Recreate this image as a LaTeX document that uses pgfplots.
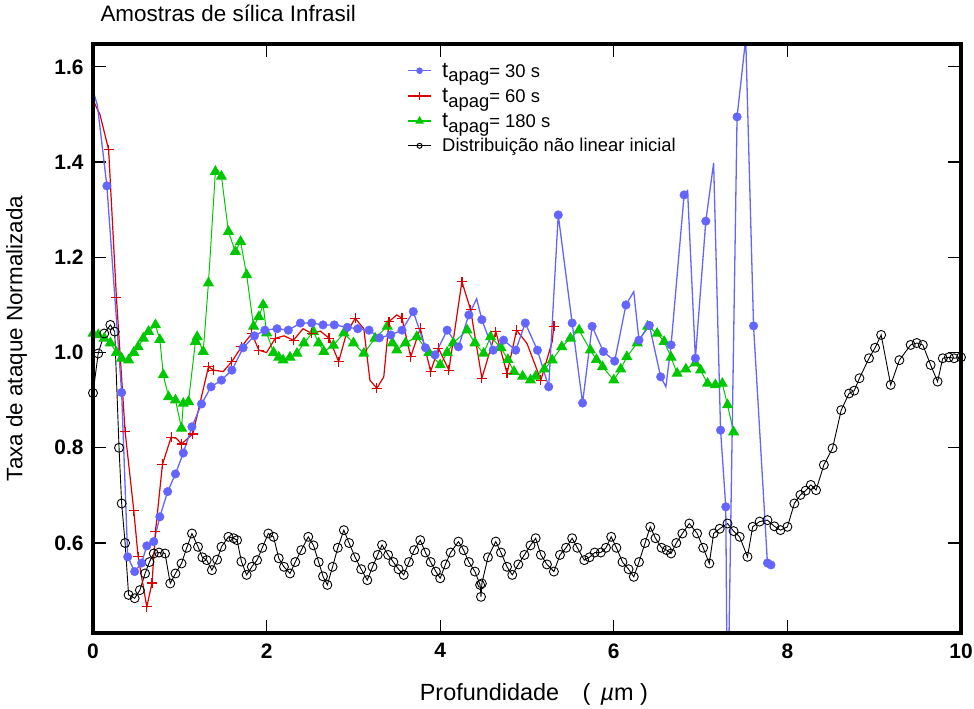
\documentclass[border=0pt]{standalone}
\usepackage{fontspec}
\setmainfont{Liberation Sans}
\usepackage{pgfplots}
\pgfplotsset{compat=1.18}
\definecolor{blueC}{RGB}{100,100,255}
\definecolor{redC}{RGB}{220,0,0}
\definecolor{greenC}{RGB}{0,200,0}

\begin{document}
\begin{tikzpicture}
\begin{axis}[
  name=ax,
  scale only axis,
  width=868bp, height=589bp,
  xmin=0, xmax=10, ymin=0.411, ymax=1.648,
  xtick={0,2,4,6,8,10},
  ytick={0.6,0.8,1.0,1.2,1.4,1.6},
  xtick pos=both, ytick pos=both,
  tick align=inside,
  major tick length=13bp,
  tick style={black, line width=1.3bp},
  axis line style={line width=3bp},
  /pgf/number format/assume math mode=true,
  tick label style={font=\bfseries\fontsize{21}{21}\selectfont},
  yticklabel style={/pgf/number format/fixed, /pgf/number format/fixed zerofill, /pgf/number format/precision=1, xshift=-6bp},
  xticklabel style={yshift=-7bp},
  title={Amostras de sílica Infrasil},
  title style={at={(0,1)}, anchor=base west, yshift=17bp, xshift=4bp, font=\fontsize{22.5}{22.5}\selectfont},
  xlabel={Profundidade\quad(\, \textit{µ}m )},
  xlabel style={at={(axis description cs:0.508,-0.080)}, anchor=north, font=\fontsize{23.5}{23.5}\selectfont},
  ylabel={Taxa de ataque Normalizada},
  ylabel style={at={(axis description cs:-0.072,0.5)}, anchor=south, font=\fontsize{22.5}{22.5}\selectfont},
  legend style={at={(0.358,0.975)}, anchor=north west, draw=none, fill=none,
    font=\fontsize{18.5}{20}\selectfont, row sep=5.5bp, column sep=8bp},
  legend cell align=left,
  legend image code/.code={\draw[mark repeat=2, mark phase=2] plot coordinates {(0cm,0cm) (0.42cm,0cm) (0.84cm,0cm)};},
]
\addlegendimage{blueC, line width=1.5bp, mark=*, mark size=2.5bp}
\addlegendentry{{\fontsize{22}{22}\selectfont t}\raisebox{-0.5ex}{apag}= 30 s}
\addlegendimage{draw=redC, line width=1.5bp, mark=+, mark size=4bp, mark options={draw=redC, line width=1.5bp}}
\addlegendentry{{\fontsize{22}{22}\selectfont t}\raisebox{-0.5ex}{apag}= 60 s}
\addlegendimage{greenC, line width=1.5bp, mark=triangle*, mark size=3.5bp}
\addlegendentry{{\fontsize{22}{22}\selectfont t}\raisebox{-0.5ex}{apag}= 180 s}
\addlegendimage{black, line width=1bp, mark=o, mark size=2.5bp}
\addlegendentry{Distribuição não linear inicial}

% 180 s
\addplot[greenC, line width=1bp, mark=triangle*, mark size=5.5bp, forget plot] coordinates {
(0.00,1.040) (0.06,1.037) (0.13,1.030) (0.20,1.020) (0.27,1.000) (0.33,0.988)
(0.41,0.984) (0.47,1.000) (0.52,1.012) (0.58,1.030) (0.64,1.044) (0.72,1.058)
(0.77,1.027) (0.81,0.953) (0.87,0.907) (0.95,0.900) (1.02,0.841) (1.04,0.893)
(1.10,0.897) (1.18,1.023) (1.20,1.033) (1.27,1.002) (1.33,1.146) (1.41,1.380)
(1.48,1.370) (1.56,1.254) (1.64,1.212) (1.70,1.233) (1.77,1.163) (1.85,1.055)
(1.91,1.075) (1.96,1.100) (2.00,1.041) (2.08,1.000) (2.14,0.990) (2.19,0.984)
(2.27,0.990) (2.35,0.998) (2.43,1.020) (2.54,1.044) (2.60,1.020) (2.66,1.002)
(2.77,1.015) (2.89,1.041) (3.00,1.020) (3.12,0.998) (3.25,1.030) (3.39,1.055)
(3.45,1.020) (3.50,1.005) (3.60,1.020) (3.73,1.033) (3.87,1.000) (4.00,0.974)
(4.08,1.000) (4.15,1.020) (4.31,1.047) (4.40,1.020) (4.50,0.998) (4.58,1.033)
(4.70,1.010) (4.78,0.985) (4.85,0.960) (4.95,0.950) (5.04,0.942) (5.10,0.950)
(5.20,0.965) (5.29,0.984) (5.40,1.012) (5.50,1.030) (5.60,1.047) (5.73,1.005)
(5.80,0.985) (5.87,0.970) (6.00,0.942) (6.08,0.965) (6.15,0.991) (6.27,1.020)
(6.39,1.055) (6.50,1.040) (6.58,1.023) (6.66,0.990) (6.73,0.956) (6.83,0.965)
(6.94,0.978) (7.00,0.963) (7.08,0.935) (7.17,0.932) (7.25,0.935) (7.31,0.890)
(7.38,0.833)
};

% initial distribution
\addplot[black, line width=0.9bp, mark=o, mark size=4.5bp, mark options={line width=0.9bp}, forget plot] coordinates {
(0.00,0.915) (0.06,0.998) (0.13,1.040) (0.20,1.058) (0.25,1.044) (0.30,0.800)
(0.33,0.683) (0.37,0.600) (0.41,0.491) (0.48,0.484) (0.54,0.501) (0.60,0.536)
(0.65,0.560) (0.70,0.578) (0.76,0.580) (0.83,0.578) (0.89,0.515) (0.95,0.536)
(1.02,0.557) (1.08,0.590) (1.14,0.620) (1.21,0.592) (1.26,0.570) (1.31,0.564)
(1.37,0.543) (1.43,0.565) (1.48,0.592) (1.56,0.613) (1.62,0.610) (1.66,0.606)
(1.71,0.561) (1.77,0.533) (1.83,0.550) (1.89,0.564) (1.95,0.590) (2.02,0.620)
(2.08,0.613) (2.14,0.568) (2.20,0.550) (2.27,0.536) (2.33,0.560) (2.40,0.585)
(2.48,0.613) (2.54,0.595) (2.60,0.560) (2.65,0.530) (2.70,0.512) (2.76,0.550)
(2.82,0.590) (2.89,0.627) (2.95,0.600) (3.02,0.570) (3.09,0.545) (3.16,0.522)
(3.22,0.550) (3.28,0.575) (3.33,0.596) (3.40,0.575) (3.46,0.560) (3.52,0.545)
(3.58,0.533) (3.64,0.560) (3.70,0.585) (3.77,0.606) (3.83,0.580) (3.89,0.560)
(3.95,0.540) (4.00,0.526) (4.06,0.555) (4.12,0.580) (4.21,0.603) (4.27,0.585)
(4.33,0.560) (4.40,0.540) (4.46,0.512) (4.47,0.487) (4.48,0.515) (4.55,0.570)
(4.64,0.603) (4.70,0.580) (4.77,0.550) (4.83,0.533) (4.90,0.555) (4.97,0.575)
(5.04,0.595) (5.10,0.610) (5.16,0.575) (5.23,0.555) (5.31,0.540) (5.38,0.575)
(5.45,0.590) (5.52,0.610) (5.58,0.590) (5.66,0.564) (5.72,0.570) (5.78,0.580)
(5.85,0.580) (5.91,0.590) (5.97,0.613) (6.03,0.590) (6.10,0.560) (6.17,0.545)
(6.23,0.529) (6.29,0.560) (6.36,0.600) (6.42,0.634) (6.48,0.610) (6.55,0.590)
(6.61,0.585) (6.66,0.578) (6.72,0.600) (6.79,0.620) (6.87,0.641) (6.96,0.620)
(7.03,0.590) (7.10,0.557) (7.15,0.620) (7.22,0.630) (7.31,0.641) (7.38,0.625)
(7.45,0.613) (7.54,0.571) (7.60,0.634) (7.68,0.645) (7.77,0.648) (7.85,0.635)
(7.92,0.627) (8.00,0.634) (8.08,0.683) (8.15,0.701) (8.21,0.710) (8.27,0.722)
(8.33,0.711) (8.42,0.764) (8.52,0.799) (8.62,0.879) (8.71,0.914) (8.77,0.920)
(8.83,0.946) (8.94,0.988) (9.01,1.010) (9.08,1.037) (9.19,0.932) (9.29,0.984)
(9.42,1.016) (9.49,1.020) (9.56,1.016) (9.65,0.974) (9.73,0.939) (9.79,0.988)
(9.86,0.990) (9.92,0.988) (10.00,0.990)
};

% 60 s: line
\addplot[redC, line width=1.2bp, forget plot] coordinates {
(0.00,1.530) (0.08,1.500) (0.18,1.426) (0.27,1.115) (0.37,0.834) (0.47,0.668)
(0.52,0.571) (0.62,0.466) (0.68,0.516) (0.72,0.624) (0.80,0.765) (0.90,0.822)
(0.96,0.820) (1.02,0.808) (1.15,0.829) (1.33,0.970) (1.39,0.963) (1.50,0.960)
(1.60,0.981) (1.71,1.012) (1.83,1.040) (1.91,1.005) (2.00,1.000) (2.10,1.030)
(2.20,1.035) (2.31,1.026) (2.42,1.050) (2.52,1.040) (2.62,1.045) (2.72,1.030)
(2.83,0.981) (2.92,1.040) (3.02,1.072) (3.12,1.050) (3.19,0.942) (3.27,0.925)
(3.35,0.949) (3.41,1.065) (3.50,1.079) (3.56,1.072) (3.66,0.991) (3.77,1.051)
(3.89,0.960) (3.98,1.009) (4.10,0.963) (4.25,1.149) (4.35,1.090) (4.48,0.946)
(4.64,1.044) (4.77,0.956) (4.88,1.047) (5.00,1.019) (5.16,0.942) (5.29,1.023)
(5.31,1.055)
};
% 60 s: marks
\addplot[redC, only marks, mark=+, mark size=5bp, mark options={line width=1.2bp}, forget plot] coordinates {
(0.18,1.426) (0.27,1.115) (0.37,0.834) (0.47,0.668) (0.52,0.571) (0.62,0.466)
(0.68,0.516) (0.72,0.624) (0.80,0.765) (0.90,0.822) (1.02,0.808) (1.15,0.829)
(1.33,0.970) (1.39,0.963) (1.60,0.981) (1.71,1.012) (1.83,1.040) (1.91,1.005)
(2.10,1.030) (2.31,1.026) (2.52,1.040) (2.72,1.030) (2.83,0.981) (3.02,1.072)
(3.27,0.925) (3.41,1.065) (3.56,1.072) (3.66,0.991) (3.77,1.051) (3.89,0.960)
(3.98,1.009) (4.10,0.963) (4.25,1.149) (4.35,1.090) (4.48,0.946) (4.64,1.044)
(4.77,0.956) (4.88,1.047) (5.16,0.942) (5.31,1.055)
};

% 30 s: line
\addplot[blueC, line width=1.3bp, forget plot] coordinates {
(0.00,1.550) (0.05,1.520) (0.16,1.350) (0.25,1.120) (0.33,0.916) (0.40,0.571)
(0.48,0.540) (0.56,0.558) (0.62,0.594) (0.70,0.603) (0.77,0.655) (0.86,0.708)
(0.95,0.745) (1.04,0.789) (1.14,0.844) (1.25,0.892) (1.36,0.928) (1.48,0.942)
(1.60,0.963) (1.73,1.010) (1.86,1.035) (1.98,1.047) (2.12,1.050) (2.25,1.047)
(2.39,1.062) (2.52,1.062) (2.65,1.058) (2.78,1.058) (2.93,1.053) (3.05,1.050)
(3.18,1.047) (3.30,1.031) (3.43,1.037) (3.56,1.047) (3.69,1.086) (3.83,1.010)
(3.94,0.995) (4.08,1.047) (4.21,1.012) (4.33,1.079) (4.42,1.113) (4.48,1.069)
(4.61,1.005) (4.73,1.026) (4.87,1.005) (4.98,1.062) (5.12,1.005) (5.25,0.928)
(5.36,1.289) (5.52,1.062) (5.64,0.894) (5.75,1.055) (5.88,1.002) (6.01,0.982)
(6.14,1.100) (6.23,1.128) (6.29,1.026) (6.41,1.057) (6.54,0.949) (6.60,0.928)
(6.66,1.016) (6.81,1.331) (6.85,1.340) (6.94,0.988) (7.06,1.276) (7.15,1.398)
(7.23,0.837) (7.29,0.676) (7.31,0.200) (7.42,1.495) (7.52,1.660) (7.61,1.056)
(7.77,0.558) (7.81,0.554)
};
% 30 s: marks
\addplot[blueC, only marks, mark=*, mark size=4.3bp, forget plot] coordinates {
(0.16,1.350) (0.33,0.916) (0.40,0.571) (0.48,0.540) (0.56,0.558) (0.62,0.594)
(0.70,0.603) (0.77,0.655) (0.86,0.708) (0.95,0.745) (1.04,0.789) (1.14,0.844)
(1.25,0.892) (1.36,0.928) (1.48,0.942) (1.60,0.963) (1.73,1.010) (1.86,1.035)
(1.98,1.047) (2.12,1.050) (2.25,1.047) (2.39,1.062) (2.52,1.062) (2.65,1.058)
(2.78,1.058) (2.93,1.053) (3.05,1.050) (3.18,1.047) (3.30,1.031) (3.43,1.037)
(3.56,1.047) (3.69,1.086) (3.83,1.010) (3.94,0.995) (4.08,1.047) (4.21,1.012)
(4.33,1.079) (4.48,1.069) (4.61,1.005) (4.73,1.026) (4.87,1.005) (4.98,1.062)
(5.12,1.005) (5.25,0.928) (5.36,1.289) (5.52,1.062) (5.64,0.894) (5.75,1.055)
(5.88,1.002) (6.01,0.982) (6.14,1.100) (6.29,1.026) (6.41,1.057) (6.54,0.949)
(6.66,1.016) (6.81,1.331) (6.94,0.988) (7.06,1.276) (7.23,0.837) (7.29,0.676)
(7.42,1.495) (7.61,1.056) (7.77,0.558) (7.81,0.554)
};
\end{axis}
\draw[line width=3.4bp] (ax.south west) rectangle (ax.north east);
\pgfresetboundingbox
\useasboundingbox (-93bp,-76bp) rectangle (881bp,633bp);
\end{tikzpicture}
\end{document}
